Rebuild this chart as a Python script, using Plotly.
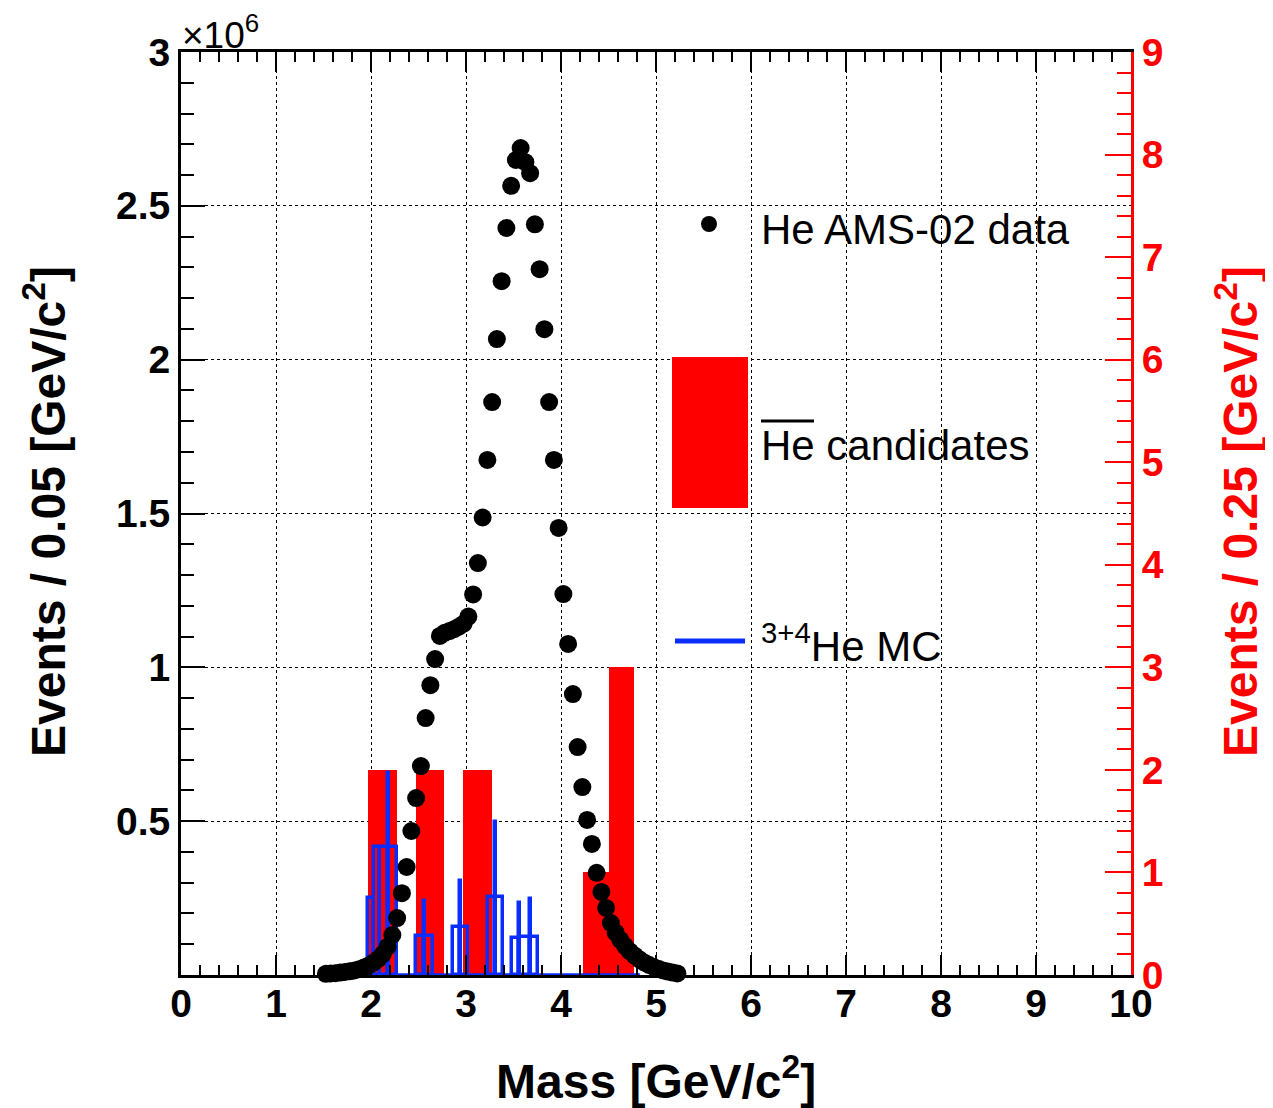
import plotly.graph_objects as go

# ---------------- data ----------------
# He AMS-02 data: bin centres [GeV/c^2] and events / 0.05 (units of 1e6)
he_mass = [1.525, 1.575, 1.625, 1.675, 1.725, 1.775, 1.825, 1.875, 1.925, 1.975,
           2.025, 2.075, 2.125, 2.175, 2.225, 2.275, 2.325, 2.375, 2.425, 2.475,
           2.525, 2.575, 2.625, 2.675, 2.725, 2.775, 2.825, 2.875, 2.925, 2.975,
           3.025, 3.075, 3.125, 3.175, 3.225, 3.275, 3.325, 3.375, 3.425, 3.475,
           3.525, 3.575, 3.625, 3.675, 3.725, 3.775, 3.825, 3.875, 3.925, 3.975,
           4.025, 4.075, 4.125, 4.175, 4.225, 4.275, 4.325, 4.375, 4.425, 4.475,
           4.525, 4.575, 4.625, 4.675, 4.725, 4.775, 4.825, 4.875, 4.925, 4.975,
           5.025, 5.075, 5.125, 5.175, 5.225]
he_events = [0.004, 0.005, 0.006, 0.008, 0.010, 0.012, 0.015, 0.019, 0.024, 0.031,
             0.040, 0.052, 0.068, 0.092, 0.130, 0.185, 0.266, 0.351, 0.468, 0.575,
             0.679, 0.835, 0.942, 1.027, 1.102, 1.112, 1.118, 1.124, 1.132, 1.142,
             1.165, 1.237, 1.339, 1.487, 1.674, 1.862, 2.067, 2.255, 2.428, 2.565,
             2.649, 2.688, 2.642, 2.606, 2.440, 2.294, 2.099, 1.862, 1.674, 1.453,
             1.238, 1.076, 0.913, 0.741, 0.611, 0.504, 0.426, 0.332, 0.270, 0.218,
             0.169, 0.138, 0.114, 0.094, 0.077, 0.063, 0.051, 0.041, 0.033, 0.026,
             0.020, 0.015, 0.011, 0.008, 0.005]

# anti-He candidates: bin edges [GeV/c^2] and events / 0.25 (right axis)
cand_lo = [1.97, 2.47, 2.97, 4.23, 4.50]
cand_hi = [2.27, 2.77, 3.27, 4.50, 4.77]
cand_events = [2, 2, 2, 1, 3]

# 3+4He MC: bin edges [GeV/c^2] and contents (left axis units, 1e6)
mc_lo = [1.970, 2.035, 2.095, 2.175, 2.185,
         2.470, 2.555, 2.565,
         2.860, 2.935, 2.945,
         3.235, 3.305, 3.315,
         3.485, 3.555, 3.565, 3.670, 3.680]
mc_hi = [2.035, 2.095, 2.175, 2.185, 2.270,
         2.555, 2.565, 2.650,
         2.935, 2.945, 3.020,
         3.305, 3.315, 3.385,
         3.555, 3.565, 3.670, 3.680, 3.755]
mc_events = [0.250, 0.415, 0.415, 0.655, 0.415,
             0.127, 0.240, 0.127,
             0.157, 0.306, 0.157,
             0.254, 0.498, 0.254,
             0.120, 0.234, 0.124, 0.246, 0.124]
mc_range = [1.97, 4.83]

x_ticks = list(range(0, 11))
left_ticks = [0.5, 1, 1.5, 2, 2.5, 3]
left_ticktext = ["0.5", "1", "1.5", "2", "2.5", "3"]

# ---------------- style ----------------
FONT = "Liberation Sans"
BLUE = "rgb(10,45,255)"
RED = "#ff0000"

fig = go.Figure()

fig.add_trace(go.Bar(
    x=[(a + b) / 2 for a, b in zip(cand_lo, cand_hi)],
    y=cand_events,
    width=[b - a for a, b in zip(cand_lo, cand_hi)],
    yaxis="y",
    marker=dict(color=RED, line=dict(width=0)),
    showlegend=False,
))

fig.add_trace(go.Scatter(
    x=mc_range, y=[0, 0], yaxis="y2", mode="lines",
    line=dict(color=BLUE, width=3.5), showlegend=False, cliponaxis=False,
))

fig.add_trace(go.Bar(
    x=[(a + b) / 2 for a, b in zip(mc_lo, mc_hi)],
    y=mc_events,
    width=[b - a for a, b in zip(mc_lo, mc_hi)],
    yaxis="y2",
    marker=dict(color="rgba(0,0,0,0)", line=dict(color=BLUE, width=3.5)),
    showlegend=False,
))

fig.add_trace(go.Scatter(
    x=he_mass, y=he_events, yaxis="y2", mode="markers",
    marker=dict(size=18, color="black", line=dict(width=0)),
    showlegend=False, cliponaxis=False,
))

tickfont_black = dict(family=FONT, size=39, color="black", weight="bold")
tickfont_red = dict(family=FONT, size=39, color=RED, weight="bold")

fig.update_layout(
    width=1273, height=1108,
    margin=dict(l=173, r=150, t=44, b=141),
    paper_bgcolor="white", plot_bgcolor="white",
    barmode="overlay", bargap=0,
    showlegend=False,
    xaxis=dict(
        range=[0, 10], tickmode="array", tickvals=x_ticks,
        ticks="inside", ticklen=20, tickwidth=2, tickcolor="black",
        showline=True, linewidth=3, linecolor="black", mirror="ticks",
        showgrid=True, gridcolor="black", griddash="dot", gridwidth=1,
        zeroline=False, tickfont=tickfont_black, ticklabelstandoff=-8,
        minor=dict(tickmode="linear", tick0=0, dtick=0.2, ticks="inside",
                   ticklen=10, tickwidth=2, tickcolor="black", showgrid=False),
    ),
    yaxis=dict(
        range=[0, 9], side="right", tickmode="linear", tick0=0, dtick=1,
        ticks="inside", ticklen=26, tickwidth=2, tickcolor=RED,
        showline=True, linewidth=3, linecolor=RED,
        showgrid=False, zeroline=False, tickfont=tickfont_red,
        minor=dict(tickmode="linear", tick0=0, dtick=0.2, ticks="inside",
                   ticklen=14, tickwidth=2, tickcolor=RED, showgrid=False),
    ),
    yaxis2=dict(
        range=[0, 3], side="left", overlaying="y",
        tickmode="array", tickvals=left_ticks, ticktext=left_ticktext,
        ticks="inside", ticklen=24, tickwidth=2, tickcolor="black",
        showline=True, linewidth=3, linecolor="black",
        showgrid=True, gridcolor="black", griddash="dot", gridwidth=1,
        zeroline=False, tickfont=tickfont_black,
        minor=dict(tickmode="linear", tick0=0, dtick=0.1, ticks="inside",
                   ticklen=13, tickwidth=2, tickcolor="black", showgrid=False),
    ),
)

def px(xp):
    return (xp - 181) / 950.0

def py(yp):
    return (975 - yp) / 923.0

annotations = [
    dict(text="Mass [GeV/c<sup>2</sup>]", x=0.5, y=py(1078), xref="paper", yref="paper",
         xanchor="center", yanchor="middle", showarrow=False,
         font=dict(family=FONT, size=48, color="black", weight="bold")),
    dict(text="Events / 0.05 [GeV/c<sup>2</sup>]", x=px(45), y=py(512), xref="paper", yref="paper",
         xanchor="center", yanchor="middle", showarrow=False, textangle=-90,
         font=dict(family=FONT, size=48, color="black", weight="bold")),
    dict(text="Events / 0.25 [GeV/c<sup>2</sup>]", x=px(1237), y=py(512), xref="paper", yref="paper",
         xanchor="center", yanchor="middle", showarrow=False, textangle=-90,
         font=dict(family=FONT, size=48, color=RED, weight="bold")),
    dict(text="×10<sup>6</sup>", x=px(180), y=py(33), xref="paper", yref="paper",
         xanchor="left", yanchor="middle", showarrow=False,
         font=dict(family=FONT, size=37, color="black")),
    dict(text="He AMS-02 data", x=px(759), y=py(229), xref="paper", yref="paper",
         xanchor="left", yanchor="middle", showarrow=False,
         font=dict(family=FONT, size=42, color="black")),
    dict(text="He candidates", x=px(759), y=py(445), xref="paper", yref="paper",
         xanchor="left", yanchor="middle", showarrow=False,
         font=dict(family=FONT, size=42, color="black")),
    dict(text="<sup>3+4</sup>He MC", x=px(759), y=py(643), xref="paper", yref="paper",
         xanchor="left", yanchor="middle", showarrow=False,
         font=dict(family=FONT, size=42, color="black")),
]

shapes = [
    dict(type="circle", xref="paper", yref="paper", xsizemode="pixel", ysizemode="pixel",
         xanchor=px(709), yanchor=py(224), x0=-8, x1=8, y0=-8, y1=8,
         fillcolor="black", line=dict(width=0)),
    dict(type="rect", xref="paper", yref="paper", x0=px(672), x1=px(748), y0=py(508), y1=py(357),
         fillcolor=RED, line=dict(width=0)),
    dict(type="line", xref="paper", yref="paper", x0=px(675), x1=px(745), y0=py(641), y1=py(641),
         line=dict(color=BLUE, width=5)),
    dict(type="line", xref="paper", yref="paper", x0=px(761), x1=px(814), y0=py(421), y1=py(421),
         line=dict(color="black", width=3)),
]

fig.update_layout(annotations=annotations, shapes=shapes)

fig.write_html("out.html")
